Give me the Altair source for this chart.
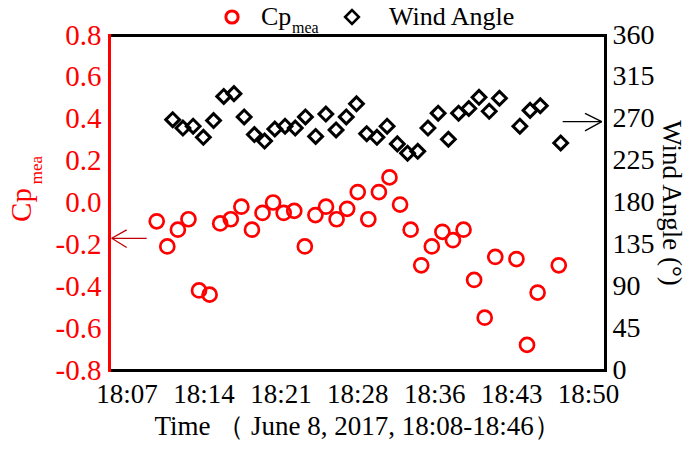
import json
import altair as alt
import pandas as pd

# ---- data ----
cp_minutes = [8, 9, 10, 11, 12, 13, 14, 15, 16, 17, 18, 19, 20, 21, 22, 23, 24, 25, 26, 27,
              28, 29, 30, 31, 32, 33, 34, 35, 36, 37, 38, 39, 40, 42, 43, 44, 46]
cp_values = [-0.09, -0.21, -0.13, -0.08, -0.42, -0.44, -0.10, -0.08, -0.02, -0.13,
             -0.05, 0.00, -0.05, -0.04, -0.21, -0.06, -0.02, -0.08, -0.03, 0.05,
             -0.08, 0.05, 0.12, -0.01, -0.13, -0.30, -0.21, -0.14, -0.18, -0.13,
             -0.37, -0.55, -0.26, -0.27, -0.68, -0.43, -0.30]

wind_minutes = [8, 9, 10, 11, 12, 13, 14, 15, 16, 17, 18, 19, 20, 21, 22, 23, 24, 25, 26, 27,
                28, 29, 30, 31, 32, 33, 34, 35, 36, 37, 38, 39, 40, 42, 43, 44, 46]
wind_values = [269, 260, 262, 250, 268, 294, 297, 272, 253, 246,
               259, 262, 260, 272, 251, 275, 258, 272, 286, 254,
               250, 262, 243, 233, 235, 260, 276, 248, 276, 281,
               293, 278, 292, 262, 279, 284, 244]

x_ticks = [5.15, 12.42, 19.69, 26.96, 34.23, 41.50, 48.77]
x_labels = ["18:07", "18:14", "18:21", "18:28", "18:36", "18:43", "18:50"]
cp_ticks = [-0.8, -0.6, -0.4, -0.2, 0.0, 0.2, 0.4, 0.6, 0.8]
angle_ticks = [0, 45, 90, 135, 180, 225, 270, 315, 360]

x_title = "Time （ June 8, 2017, 18:08-18:46）"
y2_title = "Wind Angle (°)"

# annotation arrows (data units of the Cp layer)
arrow_x = [3.75, 3.75, 3.75, 46.37, 50.06, 50.06]
arrow_x2 = [7.05, 5.16, 5.16, 50.06, 48.48, 48.48]
arrow_y = [-0.171, -0.171, -0.171, 0.386, 0.386, 0.386]
arrow_y2 = [-0.171, -0.131, -0.215, 0.386, 0.426, 0.342]
arrow_side = ["cp", "cp", "cp", "wind", "wind", "wind"]

FONT = "Liberation Serif"

df_cp = pd.DataFrame({"minute": cp_minutes, "cp": cp_values})
df_wind = pd.DataFrame({"minute": wind_minutes, "angle": wind_values})
df_arrow = pd.DataFrame({"minute": arrow_x, "minute2": arrow_x2,
                         "cp": arrow_y, "cp2": arrow_y2, "side": arrow_side})

x_step = (x_ticks[-1] - x_ticks[0]) / (len(x_ticks) - 1)
x_label_expr = f"{json.dumps(x_labels)}[round((datum.value - {x_ticks[0]}) / {x_step})]"

cp_x = alt.X("minute:Q",
             scale=alt.Scale(domain=[3.49, 50.37], nice=False, zero=False),
             axis=alt.Axis(orient="bottom", values=x_ticks, labelExpr=x_label_expr,
                           title=x_title, ticks=False, grid=False,
                           domainColor="black", domainWidth=3, domainCap="square",
                           labelFont=FONT, labelFontSize=27, labelColor="black",
                           labelPadding=11, labelFlush=False, labelOverlap=False,
                           titleFont=FONT, titleFontSize=27, titleFontWeight="normal",
                           titleColor="black", titlePadding=6))
cp_y = alt.Y("cp:Q",
             scale=alt.Scale(domain=[-0.8, 0.8], nice=False, zero=False),
             axis=alt.Axis(orient="left", values=cp_ticks,
                           labelExpr="datum.value < 0 ? '-' + format(-datum.value, '.1f') : format(datum.value, '.1f')",
                           title=None, ticks=False, grid=False,
                           domainColor="red", domainWidth=3, domainCap="square",
                           labelFont=FONT, labelFontSize=29, labelColor="red",
                           labelPadding=8, labelFlush=False, labelOverlap=False))

circles = alt.Chart(df_cp).mark_point(
    shape="circle", filled=False, color="red", strokeWidth=2.7, size=196, opacity=1
).encode(x=cp_x, y=cp_y)

arrows = alt.Chart(df_arrow).mark_rule(strokeWidth=1.3).encode(
    x=alt.X("minute:Q"), x2="minute2", y=alt.Y("cp:Q"), y2="cp2",
    color=alt.Color("side:N", scale=alt.Scale(domain=["cp", "wind"], range=["#c00000", "black"]),
                    legend=None))

def txt(s, x, y, size, color, angle=0, align="left"):
    return alt.Chart(pd.DataFrame({"t": [s]})).mark_text(
        font=FONT, fontSize=size, color=color, angle=angle, align=align, baseline="middle"
    ).encode(text="t:N", x=alt.value(x), y=alt.value(y))

legend_circle = alt.Chart(pd.DataFrame({"k": ["Cp"]})).mark_point(
    shape="circle", filled=False, color="red", strokeWidth=3, size=150, opacity=1
).encode(x=alt.value(123), y=alt.value(-18))
legend_diamond = alt.Chart(pd.DataFrame({"k": ["Wind"]})).mark_point(
    shape="diamond", filled=False, color="black", strokeWidth=2.5, size=190, opacity=1
).encode(x=alt.value(243), y=alt.value(-18))

texts = [
    txt("Cp", 152, -18, 26, "black"),
    txt("mea", 183, -7, 16, "black"),
    txt("Wind Angle", 280, -18, 26, "black"),
    txt("Cp", -87, 170, 29, "red", angle=270, align="center"),
    txt("mea", -72, 135, 17, "red", angle=270, align="center"),
]

cp_group = alt.layer(circles, arrows, legend_circle, legend_diamond, *texts)

wind_x = alt.X("minute:Q",
               scale=alt.Scale(domain=[1.76, 50.34], nice=False, zero=False),
               axis=alt.Axis(orient="top", labels=False, ticks=False, title=None, grid=False,
                             domainColor="black", domainWidth=3, domainCap="square"))
wind_y = alt.Y("angle:Q",
               scale=alt.Scale(domain=[0, 360], nice=False, zero=False),
               axis=alt.Axis(orient="right", values=angle_ticks, title=y2_title,
                             ticks=False, grid=False,
                             domainColor="black", domainWidth=3, domainCap="square",
                             labelFont=FONT, labelFontSize=28, labelColor="black",
                             labelPadding=7, labelFlush=False, labelOverlap=False,
                             titleFont=FONT, titleFontSize=27, titleFontWeight="normal",
                             titleColor="black", titleAngle=90, titlePadding=2))

diamonds = alt.Chart(df_wind).mark_point(
    shape="diamond", filled=False, color="black", strokeWidth=3, size=190, opacity=1
).encode(x=wind_x, y=wind_y)

chart = alt.layer(cp_group, diamonds).resolve_scale(
    x="independent", y="independent", color="independent"
).properties(
    width=496, height=335,
    padding={"left": 101, "top": 27, "right": 80, "bottom": 71},
    autosize=alt.AutoSizeParams(type="none"),
    background="white",
).configure_view(stroke=None)

chart.save("out.html", embed_options={"renderer": "svg", "actions": False})
